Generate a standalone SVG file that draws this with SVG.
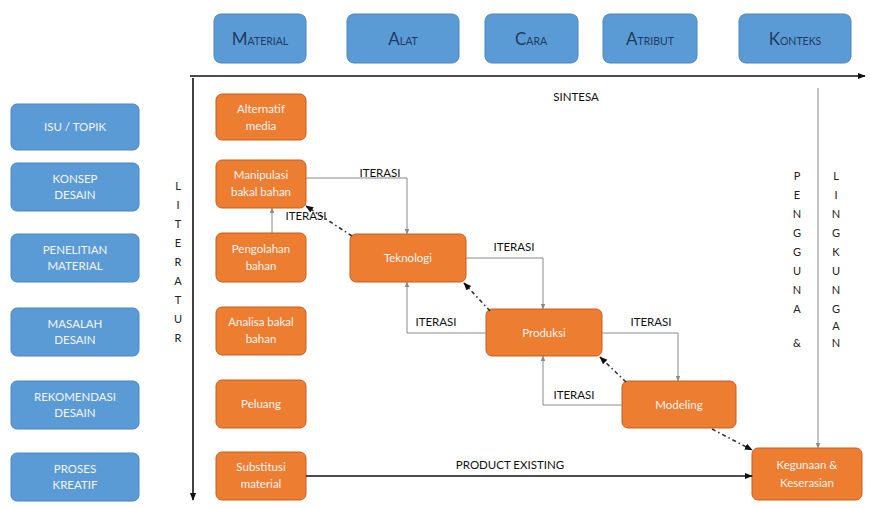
<svg xmlns="http://www.w3.org/2000/svg" width="870" height="508" viewBox="0 0 870 508">
<defs>
<style>
.blue{fill:#5B9BD5;stroke:#4A86BE;stroke-width:1}
.org{fill:#ED7D31;stroke:#C55F1C;stroke-width:1}
.hd{font-family:Lato,"Liberation Sans",sans-serif;fill:#1F3A60;text-anchor:middle}
.big{font-size:17px}
.sm{font-size:10.5px}
.wt{font-family:Lato,"Liberation Sans",sans-serif;font-size:11.5px;fill:#F4F4F4;text-anchor:middle}
.lb{font-family:Lato,"Liberation Sans",sans-serif;font-size:11.5px;fill:#111;text-anchor:middle}
.vl{font-family:Lato,"Liberation Sans",sans-serif;font-size:11px;fill:#222;text-anchor:middle}
.ln{fill:none;stroke:#8a8a8a;stroke-width:1}
.bk{fill:none;stroke:#111;stroke-width:1.6}
.dt{fill:none;stroke:#333;stroke-width:1.6;stroke-dasharray:4 3 1.5 3}
</style>
<marker id="ag" viewBox="0 0 10 10" refX="9" refY="5" markerWidth="6" markerHeight="6" orient="auto"><path d="M0,1 L10,5 L0,9 z" fill="#8a8a8a"/></marker>
<marker id="ab" viewBox="0 0 10 10" refX="9" refY="5" markerWidth="5" markerHeight="5" orient="auto"><path d="M0,1 L10,5 L0,9 z" fill="#111"/></marker>
</defs>

<g id="h-material"><rect class="blue" x="214" y="14" width="92" height="49" rx="7"/><text class="hd" x="260" y="45"><tspan class="big">M</tspan><tspan class="sm">ATERIAL</tspan></text></g>
<g id="h-alat"><rect class="blue" x="347" y="14" width="112" height="49" rx="7"/><text class="hd" x="403" y="45"><tspan class="big">A</tspan><tspan class="sm">LAT</tspan></text></g>
<g id="h-cara"><rect class="blue" x="485" y="14" width="93" height="49" rx="7"/><text class="hd" x="531" y="45"><tspan class="big">C</tspan><tspan class="sm">ARA</tspan></text></g>
<g id="h-atribut"><rect class="blue" x="603" y="14" width="94" height="49" rx="7"/><text class="hd" x="650" y="45"><tspan class="big">A</tspan><tspan class="sm">TRIBUT</tspan></text></g>
<g id="h-konteks"><rect class="blue" x="739" y="14" width="112" height="49" rx="7"/><text class="hd" x="795" y="45"><tspan class="big">K</tspan><tspan class="sm">ONTEKS</tspan></text></g>

<g id="l-isu"><rect class="blue" x="11" y="104" width="128" height="46" rx="6"/><text class="wt" x="75" y="131">ISU / TOPIK</text></g>
<g id="l-konsep"><rect class="blue" x="11" y="163" width="128" height="48" rx="6"/><text class="wt" x="75" y="183">KONSEP</text><text class="wt" x="75" y="199">DESAIN</text></g>
<g id="l-penelitian"><rect class="blue" x="11" y="234" width="128" height="48" rx="6"/><text class="wt" x="75" y="254">PENELITIAN</text><text class="wt" x="75" y="270">MATERIAL</text></g>
<g id="l-masalah"><rect class="blue" x="11" y="308" width="128" height="48" rx="6"/><text class="wt" x="75" y="328">MASALAH</text><text class="wt" x="75" y="344">DESAIN</text></g>
<g id="l-rekomendasi"><rect class="blue" x="11" y="381" width="128" height="48" rx="6"/><text class="wt" x="75" y="401">REKOMENDASI</text><text class="wt" x="75" y="417">DESAIN</text></g>
<g id="l-proses"><rect class="blue" x="11" y="453" width="128" height="48" rx="6"/><text class="wt" x="75" y="473">PROSES</text><text class="wt" x="75" y="489">KREATIF</text></g>

<g id="o-alternatif"><rect class="org" x="216" y="94" width="90" height="46" rx="6"/><text class="wt" x="261" y="113">Alternatif</text><text class="wt" x="261" y="130">media</text></g>
<g id="o-manipulasi"><rect class="org" x="216" y="160" width="90" height="48" rx="6"/><text class="wt" x="261" y="179">Manipulasi</text><text class="wt" x="261" y="196">bakal bahan</text></g>
<g id="o-pengolahan"><rect class="org" x="216" y="233" width="90" height="49" rx="6"/><text class="wt" x="261" y="253">Pengolahan</text><text class="wt" x="261" y="270">bahan</text></g>
<g id="o-analisa"><rect class="org" x="216" y="307" width="90" height="48" rx="6"/><text class="wt" x="261" y="326">Analisa bakal</text><text class="wt" x="261" y="343">bahan</text></g>
<g id="o-peluang"><rect class="org" x="216" y="380" width="90" height="48" rx="6"/><text class="wt" x="261" y="408">Peluang</text></g>
<g id="o-substitusi"><rect class="org" x="216" y="452" width="90" height="48" rx="6"/><text class="wt" x="261" y="471">Substitusi</text><text class="wt" x="261" y="488">material</text></g>
<g id="o-teknologi"><rect class="org" x="350" y="234" width="116" height="48" rx="6"/><text class="wt" x="408" y="262">Teknologi</text></g>
<g id="o-produksi"><rect class="org" x="486" y="309" width="116" height="47" rx="6"/><text class="wt" x="544" y="337">Produksi</text></g>
<g id="o-modeling"><rect class="org" x="622" y="381" width="114" height="47" rx="6"/><text class="wt" x="679" y="409">Modeling</text></g>
<g id="o-kegunaan"><rect class="org" x="752" y="448" width="110" height="52" rx="6"/><text class="wt" x="807" y="469">Kegunaan &amp;</text><text class="wt" x="807" y="487">Keserasian</text></g>

<g id="connectors">
<path class="bk" d="M190,76 H865" marker-end="url(#ab)"/>
<path class="bk" d="M193,78 V500" marker-end="url(#ab)"/>
<path class="ln" d="M818,88 V448" marker-end="url(#ag)"/>
<path class="bk" d="M306,476 H752" marker-end="url(#ab)"/>
<path class="ln" d="M306,178 H407 V234" marker-end="url(#ag)"/>
<path class="ln" d="M272,233 V208" marker-end="url(#ag)"/>
<path class="ln" d="M466,258 H543 V309" marker-end="url(#ag)"/>
<path class="ln" d="M486,333 H407 V282" marker-end="url(#ag)"/>
<path class="ln" d="M602,333 H678 V381" marker-end="url(#ag)"/>
<path class="ln" d="M622,405 H543 V356" marker-end="url(#ag)"/>
<path class="dt" d="M352,236 L306,206" marker-end="url(#ab)"/>
<path class="dt" d="M490,311 L464,283" marker-end="url(#ab)"/>
<path class="dt" d="M626,382 L600,357" marker-end="url(#ab)"/>
<path class="dt" d="M712,429 L752,450" marker-end="url(#ab)"/>
</g>

<g id="labels">
<text class="lb" x="576" y="101">SINTESA</text>
<text class="lb" x="380" y="177">ITERASI</text>
<text class="lb" x="306" y="220">ITERASI</text>
<text class="lb" x="514" y="251">ITERASI</text>
<text class="lb" x="436" y="326">ITERASI</text>
<text class="lb" x="651" y="326">ITERASI</text>
<text class="lb" x="574" y="399">ITERASI</text>
<text class="lb" x="510" y="469">PRODUCT EXISTING</text>
<text class="vl" x="178"><tspan x="178" y="190">L</tspan><tspan x="178" y="209">I</tspan><tspan x="178" y="228">T</tspan><tspan x="178" y="247">E</tspan><tspan x="178" y="266">R</tspan><tspan x="178" y="285">A</tspan><tspan x="178" y="304">T</tspan><tspan x="178" y="323">U</tspan><tspan x="178" y="342">R</tspan></text>
<text class="vl"><tspan x="797" y="180">P</tspan><tspan x="797" y="199">E</tspan><tspan x="797" y="218">N</tspan><tspan x="797" y="237">G</tspan><tspan x="797" y="256">G</tspan><tspan x="797" y="275">U</tspan><tspan x="797" y="294">N</tspan><tspan x="797" y="313">A</tspan><tspan x="797" y="347">&amp;</tspan></text>
<text class="vl"><tspan x="836" y="180">L</tspan><tspan x="836" y="199">I</tspan><tspan x="836" y="218">N</tspan><tspan x="836" y="237">G</tspan><tspan x="836" y="256">K</tspan><tspan x="836" y="275">U</tspan><tspan x="836" y="294">N</tspan><tspan x="836" y="313">G</tspan><tspan x="836" y="330">A</tspan><tspan x="836" y="347">N</tspan></text>
</g>
</svg>
